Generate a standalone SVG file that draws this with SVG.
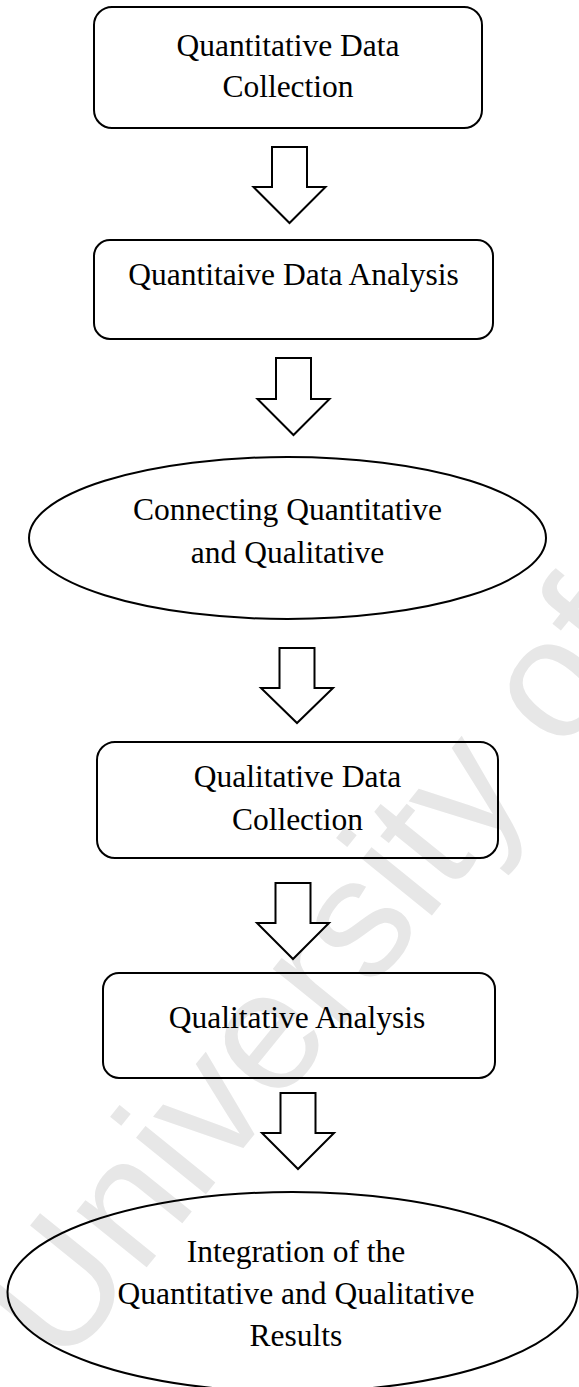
<svg xmlns="http://www.w3.org/2000/svg" width="579" height="1387" viewBox="0 0 579 1387">
<style>
.wm{font-family:"Liberation Sans",Arial,sans-serif;font-size:170px;fill:#e7e7e7}
.box{fill:none;stroke:#000;stroke-width:2}
.arr{fill:#fff;stroke:#000;stroke-width:2;stroke-linejoin:miter}
.t{font-family:"Liberation Serif","Times New Roman",serif;font-size:31.5px;fill:#000;text-anchor:middle}
</style>
<rect width="579" height="1387" fill="#fff"/>
<text class="wm" x="62" y="1372" transform="rotate(-51 62 1372)">University of</text>
<g id="connectors">
<polygon class="arr" points="272,147 307,147 307,187 325.5,187 289.5,223 253.5,187 272,187"/>
<polygon class="arr" points="276,358 311,358 311,399 329.5,399 293.5,435 257.5,399 276,399"/>
<polygon class="arr" points="279.5,648 314.5,648 314.5,688 333,688 297,723 261,688 279.5,688"/>
<polygon class="arr" points="275.5,883 310.5,883 310.5,923 329,923 293,959 257,923 275.5,923"/>
<polygon class="arr" points="280.5,1093 315.5,1093 315.5,1133 334,1133 298,1169 262,1133 280.5,1133"/>
</g>
<g id="n1">
<rect class="box" x="94" y="7" width="388" height="121" rx="18"/>
<text class="t" x="288" y="56">Quantitative Data</text>
<text class="t" x="288" y="97">Collection</text>
</g>
<g id="n2">
<rect class="box" x="94" y="240" width="399" height="99" rx="16"/>
<text class="t" x="293.5" y="285">Quantitaive Data Analysis</text>
</g>
<g id="n3">
<ellipse class="box" cx="287.5" cy="538" rx="258.5" ry="81"/>
<text class="t" x="287.5" y="520">Connecting Quantitative</text>
<text class="t" x="287.5" y="563">and Qualitative</text>
</g>
<g id="n4">
<rect class="box" x="97" y="742" width="401" height="116" rx="18"/>
<text class="t" x="297.5" y="787">Qualitative Data</text>
<text class="t" x="297.5" y="830">Collection</text>
</g>
<g id="n5">
<rect class="box" x="103" y="973" width="392" height="105" rx="16"/>
<text class="t" x="297" y="1028">Qualitative Analysis</text>
</g>
<g id="n6">
<ellipse class="box" cx="292.5" cy="1292" rx="285" ry="100"/>
<text class="t" x="296" y="1262">Integration of the</text>
<text class="t" x="296" y="1304">Quantitative and Qualitative</text>
<text class="t" x="296" y="1346">Results</text>
</g>
</svg>
